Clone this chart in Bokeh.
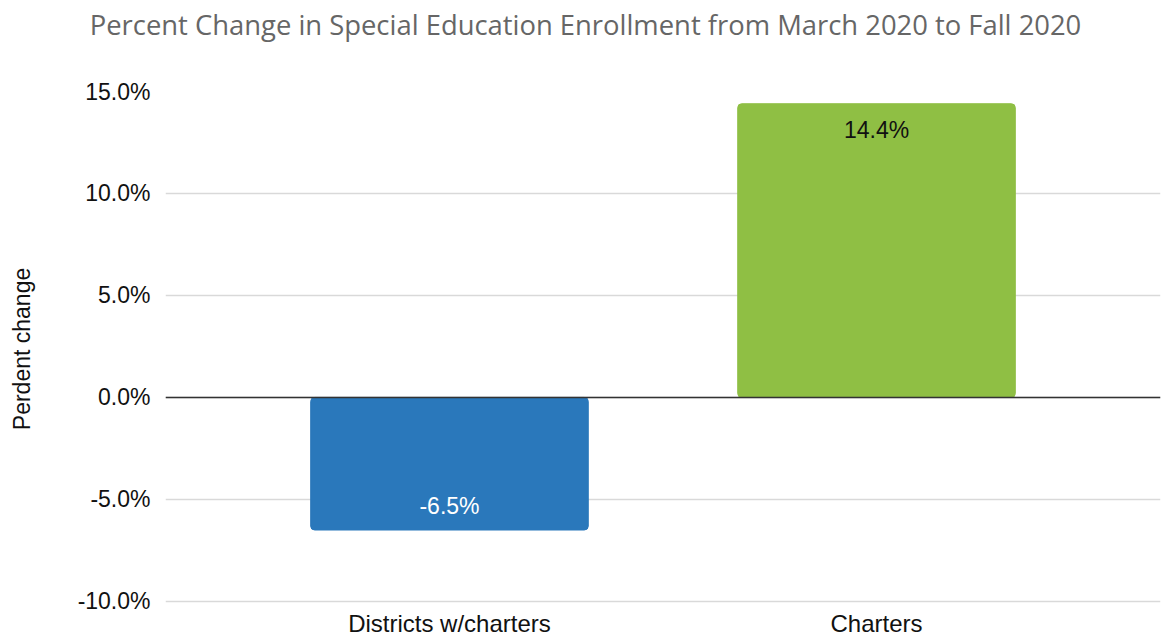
from bokeh.plotting import figure
from bokeh.layouts import column
from bokeh.models import ColumnDataSource, LabelSet, Span, PrintfTickFormatter, FactorRange, Div
from bokeh.core.properties import value
from bokeh.embed import file_html
from bokeh.resources import INLINE

title_text = "Percent Change in Special Education Enrollment from March 2020 to Fall 2020"
categories = ["Districts w/charters", "Charters"]
values = [-6.5, 14.4]
colors = ["#2a78bb", "#8fbf44"]
label_colors = ["#ffffff", "#111111"]
y_ticks = [-10, -5, 0, 5, 10, 15]

labels = [f"{v:.1f}%" for v in values]
offsets = [24 if v < 0 else -26 for v in values]

src = ColumnDataSource(dict(cat=categories, val=values, color=colors,
                            label=labels, lcolor=label_colors, off=offsets))

title = Div(text=f'<div style="width:1161px;text-align:center;font-family:\'Open Sans\';'
                 f'font-size:27.4px;line-height:40px;color:#666666;white-space:nowrap;">{title_text}</div>',
            width=1161, height=40)

p = figure(x_range=FactorRange(factors=categories, range_padding=0.165),
           y_range=(-10.25, 15), width=1161, height=591,
           output_backend="svg", toolbar_location=None,
           min_border_left=165, min_border_right=1, min_border_top=41, min_border_bottom=35)

p.vbar(x="cat", top="val", bottom=0, width=0.65, color="color", source=src, border_radius=4)

p.add_layout(LabelSet(x="cat", y="val", text="label", source=src, y_offset="off",
                      text_align="center", text_baseline="middle",
                      text_color="lcolor", text_font_size="23px",
                      text_font=value("Liberation Sans")))

p.add_layout(Span(location=0, dimension="width", line_color="#333333", line_width=1.5))

p.outline_line_color = None
p.xgrid.grid_line_color = None
p.ygrid.grid_line_color = "#d9d9d9"
p.ygrid.grid_line_width = 1.5
p.yaxis.ticker = y_ticks
p.yaxis.formatter = PrintfTickFormatter(format="%.1f%%")

for ax in (p.xaxis, p.yaxis):
    ax.axis_line_color = None
    ax.major_tick_line_color = None
    ax.minor_tick_line_color = None
    ax.major_tick_out = 0
    ax.major_tick_in = 0
    ax.major_label_text_font = "Liberation Sans"
    ax.major_label_text_font_size = "23px"
    ax.major_label_text_color = "#111111"

p.xaxis.major_label_text_font_size = "24px"
p.yaxis.major_label_standoff = 15
p.xaxis.major_label_standoff = 3
p.yaxis.axis_label = "Perdent change"
p.yaxis.axis_label_text_font = "Liberation Sans"
p.yaxis.axis_label_text_font_size = "23px"
p.yaxis.axis_label_text_font_style = "normal"
p.yaxis.axis_label_text_color = "#111111"
p.yaxis.axis_label_standoff = 40

layout = column(title, p, spacing=0)
open("out.html", "w").write(file_html(layout, INLINE))
